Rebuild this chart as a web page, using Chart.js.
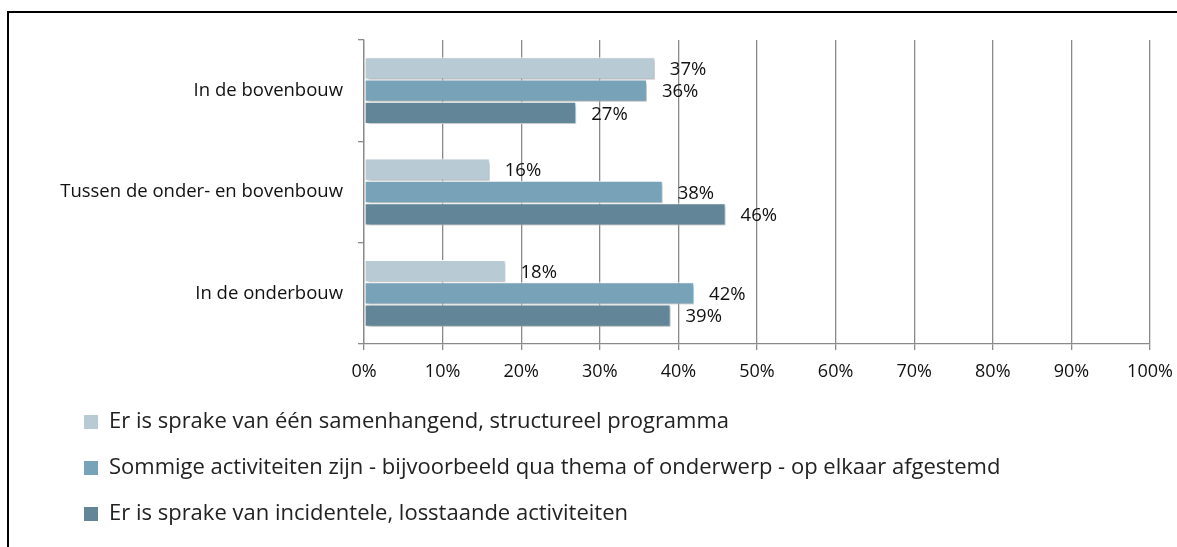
<!DOCTYPE html>
<html>
<head>
<meta charset="utf-8">
<script src="https://cdn.jsdelivr.net/npm/chart.js@4/dist/chart.umd.min.js"></script>
<style>
  html, body { margin: 0; padding: 0; background: #fff; overflow: hidden; }
  #wrap { position: relative; width: 1177px; height: 547px; }
  #frame { position: absolute; left: 7px; top: 11px; width: 1300px; height: 700px; border: 2px solid #000; box-sizing: border-box; pointer-events: none; }
  canvas { position: absolute; left: 0; top: 0; }
</style>
</head>
<body>
<div id="wrap">
  <canvas id="c" width="1177" height="547"></canvas>
  <div id="frame"></div>
</div>
<script>
const categories = ["In de bovenbouw", "Tussen de onder- en bovenbouw", "In de onderbouw"];
const seriesNames = [
  "Er is sprake van één samenhangend, structureel programma",
  "Sommige activiteiten zijn - bijvoorbeeld qua thema of onderwerp - op elkaar afgestemd",
  "Er is sprake van incidentele, losstaande activiteiten"
];
const samenhangend = [37, 16, 18];
const afgestemd = [36, 38, 42];
const incidenteel = [27, 46, 39];
const seriesColors = ["#b8cad4", "#78a2b7", "#628597"];
const xTicks = [0, 10, 20, 30, 40, 50, 60, 70, 80, 90, 100];

const FONT = "'Open Sans', sans-serif";

const shadowPlugin = {
  id: 'barShadow',
  beforeDatasetsDraw(chart) {
    const ctx = chart.ctx;
    ctx.save();
    ctx.shadowColor = 'rgba(0,0,0,0.30)';
    ctx.shadowBlur = 3;
    ctx.shadowOffsetX = 2;
    ctx.shadowOffsetY = 2;
  },
  afterDatasetsDraw(chart) {
    chart.ctx.restore();
  }
};

const labelPlugin = {
  id: 'valueLabels',
  afterDatasetsDraw(chart) {
    const ctx = chart.ctx;
    ctx.save();
    ctx.font = "18.5px " + FONT;
    ctx.fillStyle = '#111';
    ctx.textAlign = 'left';
    ctx.textBaseline = 'middle';
    chart.data.datasets.forEach((ds, di) => {
      const meta = chart.getDatasetMeta(di);
      meta.data.forEach((el, i) => {
        ctx.fillText(ds.data[i] + '%', el.x + 15, el.y + 1.5);
      });
    });
    ctx.restore();
  }
};

const seriesData = [samenhangend, afgestemd, incidenteel];

new Chart(document.getElementById('c'), {
  type: 'bar',
  data: {
    labels: categories,
    datasets: seriesNames.map((name, k) => ({
      label: name,
      data: seriesData[k],
      backgroundColor: seriesColors[k],
      borderColor: '#ffffff',
      borderWidth: 1,
      borderSkipped: false,
      categoryPercentage: 0.66,
      barPercentage: 1.0
    }))
  },
  options: {
    indexAxis: 'y',
    responsive: false,
    animation: false,
    devicePixelRatio: 1,
    layout: { padding: { left: 60, top: 40, right: 27, bottom: 12 } },
    scales: {
      x: {
        min: 0,
        max: 100,
        afterBuildTicks(scale) { scale.ticks = xTicks.map(v => ({ value: v })); },
        afterFit(scale) { scale.height = 43; scale.paddingLeft = 0; scale.paddingRight = 0; },
        grid: { color: '#8a8a8a', lineWidth: 1.3, tickLength: 6, drawTicks: true },
        border: { color: '#8a8a8a', width: 1.3 },
        ticks: {
          padding: 11,
          autoSkip: false,
          minRotation: 0,
          maxRotation: 0,
          color: '#111',
          font: { family: FONT, size: 18 },
          callback: v => v + '%'
        }
      },
      y: {
        afterFit(scale) { scale.width = 304; scale.paddingTop = 0; scale.paddingBottom = 0; },
        grid: { display: true, drawOnChartArea: false, drawTicks: true, tickLength: 6, color: '#8a8a8a', lineWidth: 1.3, offset: true },
        border: { color: '#8a8a8a', width: 1.3 },
        ticks: {
          padding: 15,
          color: '#111',
          font: { family: FONT, size: 18.5 }
        }
      }
    },
    plugins: {
      legend: {
        position: 'bottom',
        align: 'start',
        labels: {
          boxWidth: 14,
          boxHeight: 14,
          padding: 24,
          color: '#222',
          font: { family: FONT, size: 22 },
          generateLabels(chart) {
            return chart.data.datasets.map((ds, i) => ({
              text: ds.label,
              fillStyle: ds.backgroundColor,
              strokeStyle: ds.backgroundColor,
              lineWidth: 0,
              hidden: false,
              datasetIndex: i,
              fontColor: '#222'
            }));
          }
        }
      },
      tooltip: { enabled: false }
    }
  },
  plugins: [shadowPlugin, labelPlugin]
});
</script>
</body>
</html>
